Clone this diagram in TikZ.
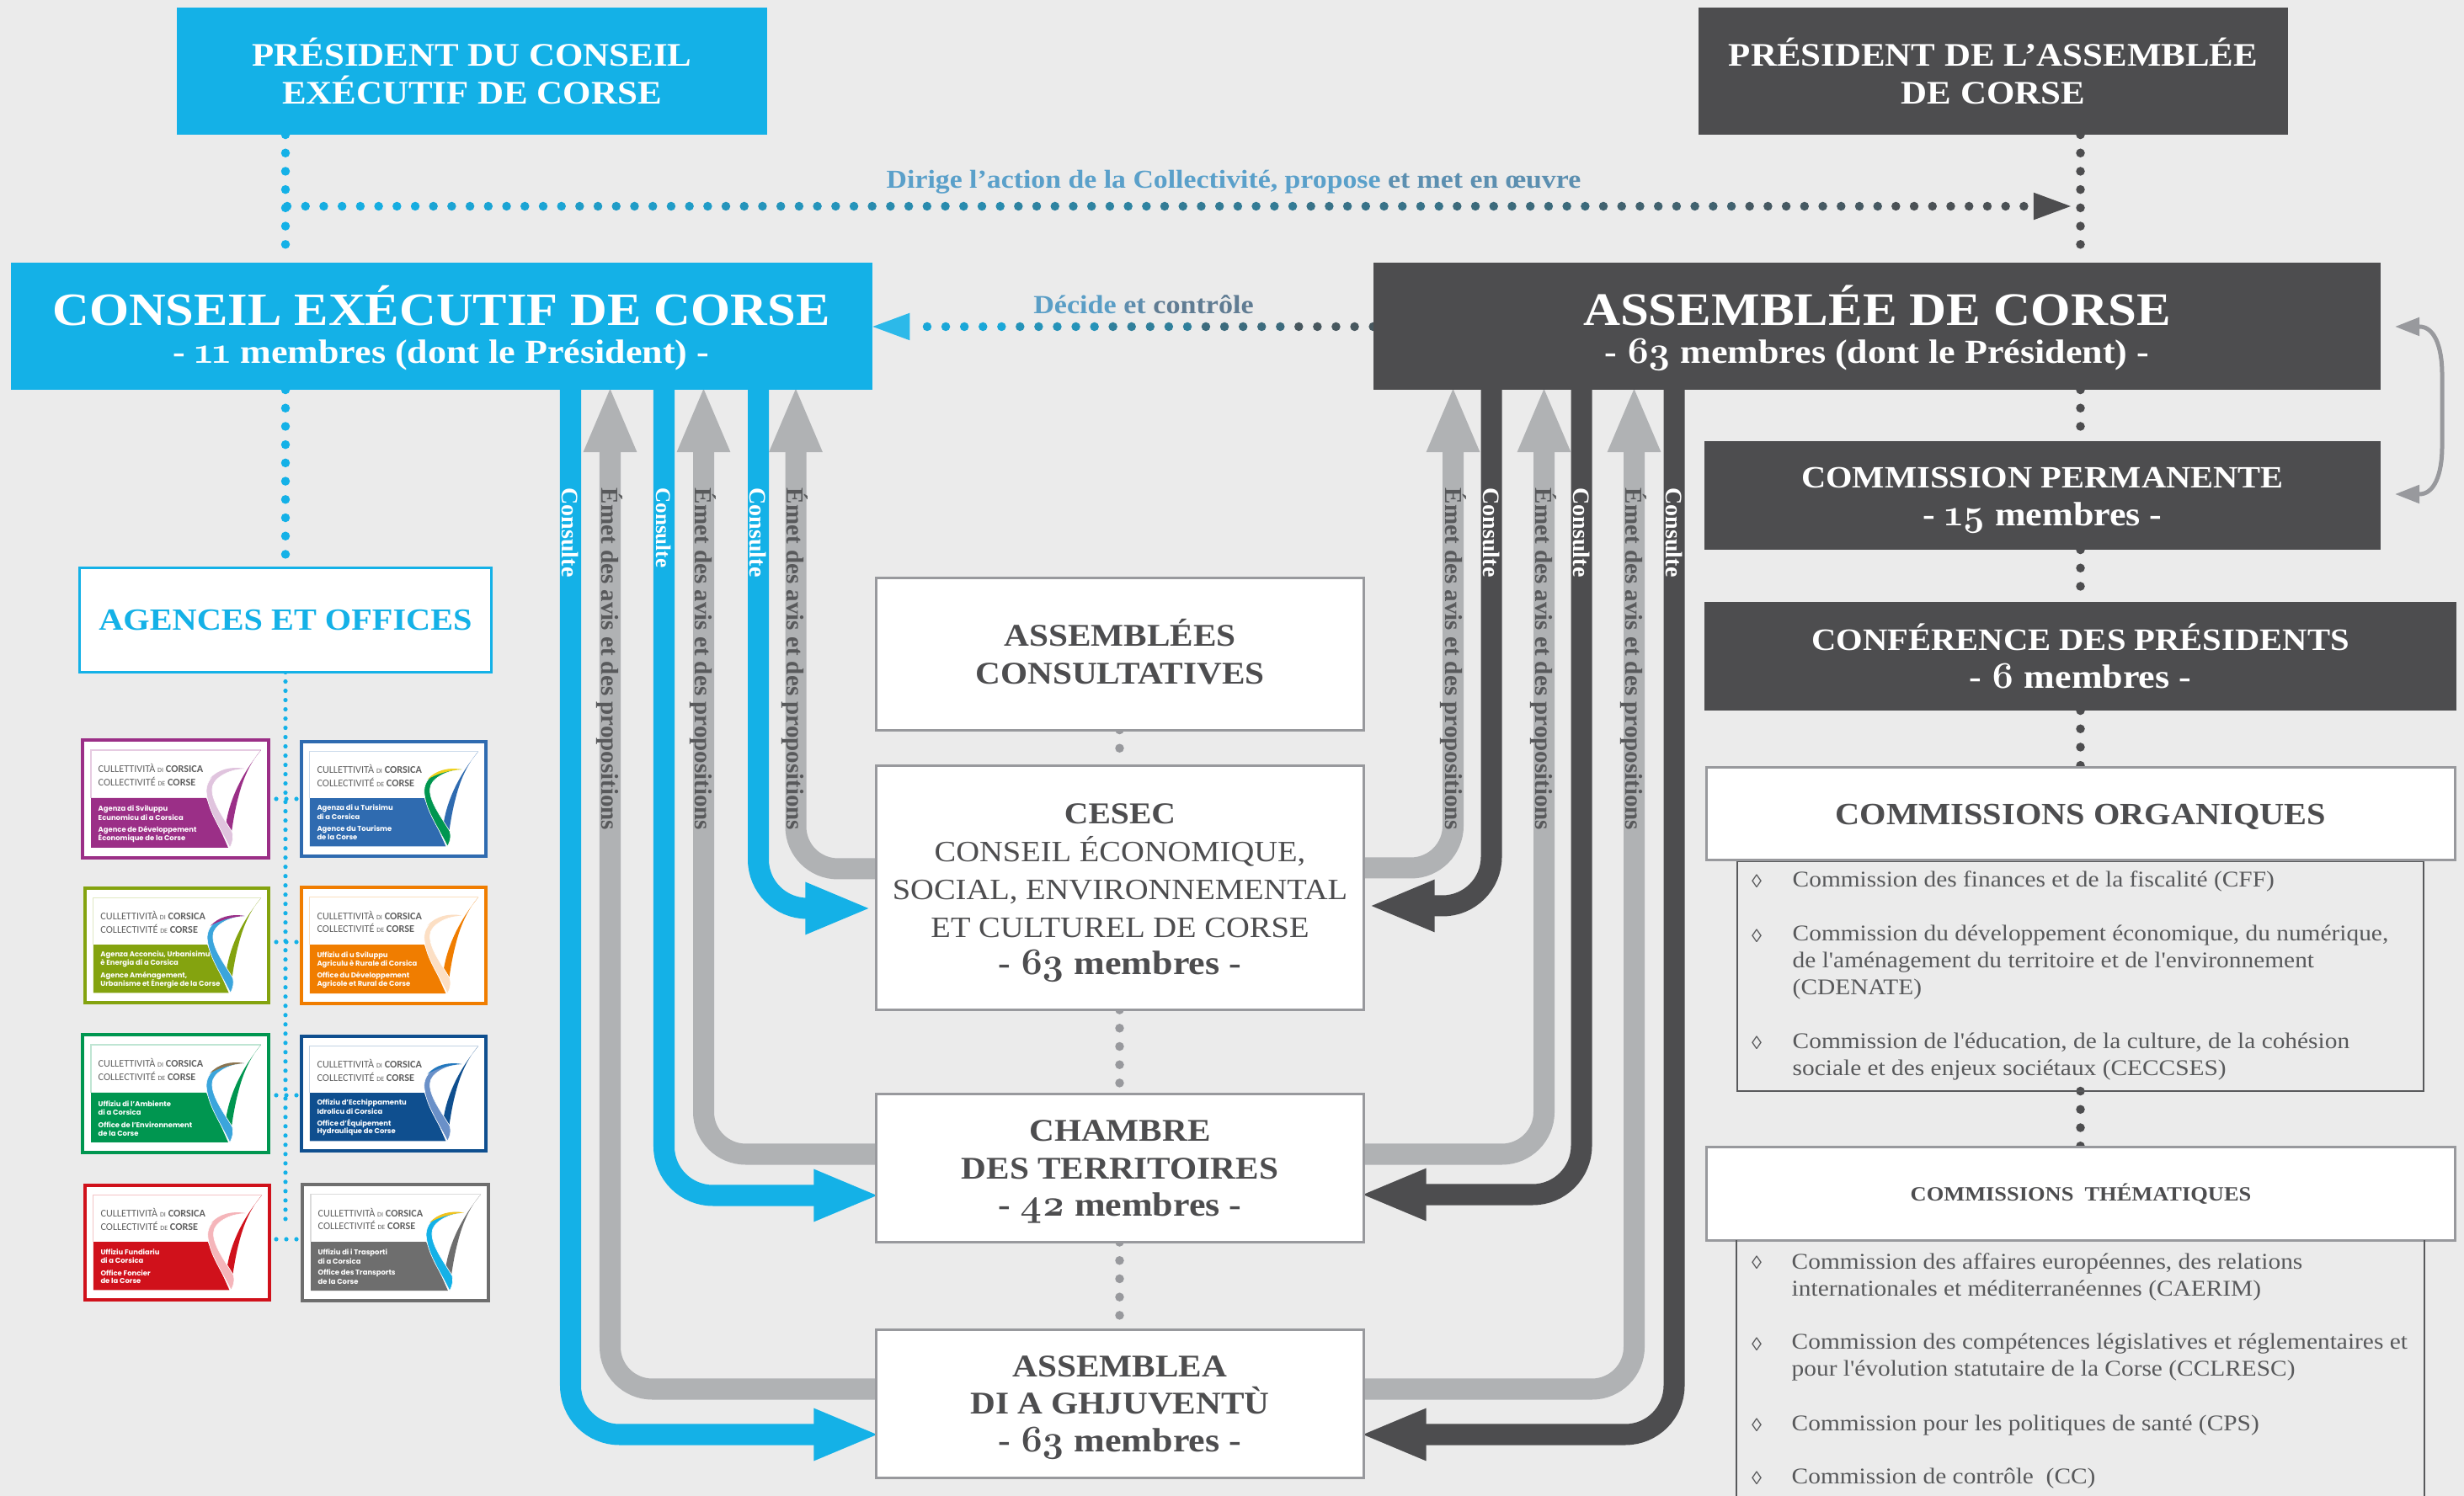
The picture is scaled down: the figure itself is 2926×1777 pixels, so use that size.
\documentclass[tikz,border=0pt]{standalone}
\usepackage{fontspec}
\setmainfont{Liberation Serif}[FakeStretch=1.1]
\newfontfamily\tms{Liberation Serif}
\newfontfamily\plainf{Liberation Serif}[FakeStretch=1.1]
\newfontfamily\oldn[Numbers=OldStyle,Scale=1.12]{Latin Modern Roman}
\newfontfamily\logoh{Carlito}
\newfontfamily\logot{Poppins}
\usetikzlibrary{arrows.meta,calc}
\pgfdeclarelayer{bgl}
\pgfdeclarelayer{links}
\pgfsetlayers{bgl,links,main}
\definecolor{cB}{HTML}{14B1E7}
\definecolor{cD}{HTML}{4D4D4F}
\definecolor{cG}{HTML}{B0B2B4}
\definecolor{cF}{HTML}{98999D}
\definecolor{cBg}{HTML}{EBEBEB}
\definecolor{cT}{HTML}{58595B}
\definecolor{lPur}{HTML}{9B2F87}
\definecolor{lPurP}{HTML}{E0C4DE}
\definecolor{lBlu}{HTML}{2F6BB0}
\definecolor{lGre}{HTML}{009650}
\definecolor{lYel}{HTML}{F2D21B}
\definecolor{lOli}{HTML}{84A30F}
\definecolor{lSky}{HTML}{3BA5DC}
\definecolor{lOra}{HTML}{F07D00}
\definecolor{lOraP}{HTML}{FCDFC4}
\definecolor{lBro}{HTML}{8C7550}
\definecolor{lNav}{HTML}{0F4F8F}
\definecolor{lNavP}{HTML}{6A90C8}
\definecolor{lNavT}{HTML}{2378BE}
\definecolor{lRed}{HTML}{D0111B}
\definecolor{lRedP}{HTML}{F5B5BA}
\definecolor{lGry}{HTML}{6E6E6E}
\definecolor{lAmb}{HTML}{F2C21B}
\newcommand\pxf[2]{\fontsize{\fpeval{#1*0.284528}pt}{\fpeval{#2*0.284528}pt}\selectfont}
\newcommand\os[1]{{\oldn\bfseries #1}}
\newcommand\mbr[1]{{\pxf{40}{45}- \os{#1} membres -}}
\newcommand\reg[1]{{\mdseries\pxf{35}{44.7}#1}}
\tikzset{
  solidbox/.style={inner sep=0pt,outer sep=0pt},
  solidtext/.style={inner sep=0pt,text=white,align=center,font=\bfseries\pxf{39}{45}},
  whitebox/.style={draw=cF,line width=.03cm,fill=white,inner sep=0pt,outer sep=0pt},
  whitetext/.style={inner sep=0pt,text=cD,align=center,font=\bfseries\pxf{37.5}{44.7}},
  blueArrow/.style={draw=cB,line width=.25cm,rounded corners=.58cm,shorten >=-.05cm,-{Triangle[length=.79cm,width=.56cm]}},
  darkArrow/.style={draw=cD,line width=.25cm,rounded corners=.58cm,shorten >=-.05cm,-{Triangle[length=.79cm,width=.56cm]}},
  grayArrow/.style={draw=cG,line width=.25cm,rounded corners=.5cm,shorten >=-.05cm,-{Triangle[length=.79cm,width=.57cm]}},
  consLabel/.style={rotate=-90,anchor=base west,inner sep=0pt,text=white,font=\tms\bfseries\pxf{28}{28}},
  avisLabel/.style={rotate=-90,anchor=base west,inner sep=0pt,text=cT,font=\tms\bfseries\pxf{29}{29}},
  dotline/.style={line cap=round,dash pattern=on 0pt off .217cm,line width=.105cm},
  thindots/.style={draw=cB,line cap=round,dash pattern=on 0pt off .11cm,line width=.052cm},
  listText/.style={anchor=west,inner sep=0pt,text=cT,align=left,font=\plainf\pxf{26.7}{32}},
  bulletText/.style={anchor=center,inner sep=0pt,text=cT,font=\pxf{22}{22}},
  subframe/.style={draw=cT,line width=.02cm},
}
\newcommand\logotext[5]{%
  \node[anchor=west,inner sep=0pt,text=white,font=\logot\bfseries\pxf{8.4}{9}] (#1a) at (20,84) {#2};
  \node[anchor=west,inner sep=0pt,text=white,font=\logot\bfseries\pxf{8.4}{9}] (#1b) at (20,94) {#3};
  \node[anchor=west,inner sep=0pt,text=white,font=\logot\bfseries\pxf{8.4}{9}] (#1c) at (20,109) {#4};
  \node[anchor=west,inner sep=0pt,text=white,font=\logot\bfseries\pxf{8.4}{9}] (#1d) at (20,119) {#5};
}
% name, x, y, w, h, main, left, top, {l1}{l2}{l3}{l4}
\newcommand\logo[9]{%
  \node[draw=#6,line width=.036cm,fill=white,inner sep=0pt,outer sep=0pt,
        minimum width=\fpeval{(#4-3.6)*0.01}cm,minimum height=\fpeval{(#5-3.6)*0.01}cm]
        (#1) at (\fpeval{#2+#4/2},\fpeval{#3+#5/2}) {};
  \begin{scope}[shift={(#2,#3)},xscale=\fpeval{#4/225},yscale=\fpeval{#5/144}]
    \draw[#6!25,line width=.012cm] (214,14) -- (12,14) -- (12,71);
    \fill[#6] (12,71) -- (149,71) -- (175,130) -- (12,130) -- cycle;
    \fill[#6] (214,14) .. controls (200,30) and (192,50) .. (187,70)
       .. controls (183,85) and (181,98) .. (179,111) -- (172.6,99.7)
       .. controls (176,80) and (185,50) .. (214,14) -- cycle;
    \fill[#7,draw=white,line width=.006cm] (194,36) .. controls (175,33) and (150,40) .. (149,62)
       .. controls (150,85) and (165,105) .. (177,130) .. controls (181,122) and (181,118) .. (180,112)
       .. controls (170,95) and (155,75) .. (156,60) .. controls (156,48) and (175,37) .. (194,36) -- cycle;
    \fill[#8] (194,36) .. controls (178,33) and (163,37) .. (153,48)
       .. controls (163,42) and (178,37) .. (194,36) -- cycle;
    \node[anchor=west,inner sep=0pt,text=black!62,font=\logoh\pxf{12.2}{13}] (#1h1) at (20,35.5) {CULLETTIVITÀ {\pxf{8}{8}DI} \textbf{CORSICA}};
    \node[anchor=west,inner sep=0pt,text=black!62,font=\logoh\pxf{12.2}{13}] (#1h2) at (20,51.5) {COLLECTIVITÉ {\pxf{8}{8}DE} \textbf{CORSE}};
    \logotext{#1}#9
  \end{scope}%
}
\begin{document}
\begin{tikzpicture}[x=.01cm,y=-.01cm]
\useasboundingbox (0,0) rectangle (2926,1777);
\begin{pgfonlayer}{bgl}
\fill[cBg] (0,0) rectangle (2926,1777);
\end{pgfonlayer}
\coordinate (vx) at (339,0);
\coordinate (dx) at (2470.5,0);
\coordinate (gx) at (1329.5,0);
% --- solid boxes
\node[solidbox,fill=cB,minimum width=7.01cm,minimum height=1.51cm] (pce) at (560.5,84.5) {};
\node[solidtext] (pcet) at (560.5,84.5) {PRÉSIDENT DU CONSEIL\\EXÉCUTIF DE CORSE};
\node[solidbox,fill=cD,minimum width=7.00cm,minimum height=1.51cm] (pas) at (2367,84.5) {};
\node[solidtext] (past) at (2367,84.5) {PRÉSIDENT DE L’ASSEMBLÉE\\DE CORSE};
\node[solidbox,fill=cB,minimum width=10.23cm,minimum height=1.51cm] (cex) at (524.5,387.5) {};
\node[solidtext] (cext) at (524,390) {{\pxf{55}{55}CONSEIL EXÉCUTIF DE CORSE}\\{\pxf{40}{45}- \os{11} membres (dont le Président) -}};
\node[solidbox,fill=cD,minimum width=11.96cm,minimum height=1.51cm] (asm) at (2229,387.5) {};
\node[solidtext] (asmt) at (2229,390) {{\pxf{55.4}{55}ASSEMBLÉE DE CORSE}\\{\pxf{40}{45}- \os{6\kern-.08em 3} membres (dont le Président) -}};
\node[solidbox,fill=cD,minimum width=8.03cm,minimum height=1.29cm] (cperm) at (2425.5,588.5) {};
\node[solidtext,font=\bfseries\pxf{36.8}{45}] (cpermt) at (2425.5,594) {COMMISSION PERMANENTE\\\mbr{15}};
\node[solidbox,fill=cD,minimum width=8.93cm,minimum height=1.29cm] (conf) at (2470.5,779.5) {};
\node[solidtext,font=\bfseries\pxf{36.9}{45}] (conft) at (2470.5,779) {CONFÉRENCE DES PRÉSIDENTS\\\mbr{6}};
% --- white boxes
\node[whitebox,minimum width=5.79cm,minimum height=1.80cm] (ac) at (1330,777) {};
\node[whitetext] (act) at (1330,774) {ASSEMBLÉES\\CONSULTATIVES};
\node[whitebox,minimum width=5.79cm,minimum height=2.90cm] (cesec) at (1330,1054.5) {};
\node[whitetext] (cesect) at (1330,1061) {{\pxf{36}{44.7}CESEC}\\\reg{CONSEIL ÉCONOMIQUE,}\\\reg{SOCIAL, ENVIRONNEMENTAL}\\\reg{ET CULTUREL DE CORSE}\\{\pxf{40}{45}- \os{6\kern-.08em 3} membres -}};
\node[whitebox,minimum width=5.79cm,minimum height=1.76cm] (cham) at (1330,1387.5) {};
\node[whitetext] (chamt) at (1330,1392) {CHAMBRE\\DES TERRITOIRES\\\mbr{42}};
\node[whitebox,minimum width=5.79cm,minimum height=1.76cm] (jeun) at (1330,1667.5) {};
\node[whitetext] (jeunt) at (1330,1672) {ASSEMBLEA\\DI A GHJUVENTÙ\\{\pxf{40}{45}- \os{6\kern-.08em 3} membres -}};
% --- commissions
\node[draw=cT,line width=.02cm,inner sep=0pt,outer sep=0pt,minimum width=8.15cm,minimum height=2.73cm] (orgsub) at (2470.5,1159.5) {};
\coordinate (thl) at (2062,1777);
\coordinate (thr) at (2879,1777);
\node[whitebox,minimum width=8.89cm,minimum height=1.10cm] (org) at (2471,966.5) {};
\node[whitetext,font=\bfseries\pxf{36.7}{37}] (orgt) at (2471,970) {COMMISSIONS ORGANIQUES};
\node[whitebox,minimum width=8.89cm,minimum height=1.10cm] (them) at (2471,1418) {};
\node[whitetext,font=\bfseries\pxf{24}{24}] (themt) at (2471,1418.5) {COMMISSIONS\ \ THÉMATIQUES};
\draw[subframe] (thl) -- (thl |- them.south);
\draw[subframe] (thr) -- (thr |- them.south);
\foreach \nm/\yy in {o1/1047,o2/1112,o3/1239,t1/1500,t2/1597,t3/1693,t4/1756}{
  \node[bulletText] (b\nm) at (2086,\yy) {◊};
}
\node[listText] (i1) at (2128,1047) {Commission des finances et de la fiscalité (CFF)};
\node[listText] (i2) at (2128,1143.5) {Commission du développement économique, du numérique,\\de l'aménagement du territoire et de l'environnement\\(CDENATE)};
\node[listText] (i3) at (2128,1255.5) {Commission de l'éducation, de la culture, de la cohésion\\sociale et des enjeux sociétaux (CECCSES)};
\node[listText] (j1) at (2127,1516.5) {Commission des affaires européennes, des relations\\internationales et méditerranéennes (CAERIM)};
\node[listText] (j2) at (2127,1612.5) {Commission des compétences législatives et réglementaires et\\pour l'évolution statutaire de la Corse (CCLRESC)};
\node[listText] (j3) at (2127,1693) {Commission pour les politiques de santé (CPS)};
\node[listText] (j4) at (2127,1756) {Commission de contrôle\ \ (CC)};
% --- agences
\node[draw=cB,line width=.03cm,fill=white,inner sep=0pt,outer sep=0pt,minimum width=4.89cm,minimum height=1.24cm,text=cB,font=\bfseries\pxf{36.6}{37}] (ag) at (339,736.5) {AGENCES ET OFFICES};
% --- links (below the boxes)
\begin{pgfonlayer}{links}
\draw[dotline,draw=cB] (vx |- pce.south) -- (vx |- cex.north);
\draw[thindots] (vx |- ag.south) -- (339,1457);
\draw[dotline,draw=cB] (vx |- cex.south) -- (vx |- ag.north);
\draw[dotline,draw=cD] (dx |- pas.south) -- (dx |- asm.north);
\draw[dotline,draw=cD] (dx |- asm.south) -- (dx |- cperm.north);
\draw[dotline,draw=cD] (dx |- cperm.south) -- (dx |- conf.north);
\draw[dotline,draw=cD] (dx |- conf.south) -- (dx |- org.north);
\draw[dotline,draw=cD] (dx |- orgsub.south) -- (dx |- them.north);
\draw[dotline,draw=cF] (gx |- ac.south) -- (gx |- cesec.north);
\draw[dotline,draw=cF] (gx |- cesec.south) -- (gx |- cham.north);
\draw[dotline,draw=cF] (gx |- cham.south) -- (gx |- jeun.north);
% gradient dotted links
\coordinate (topL) at (341,245);
\coordinate (topR) at (2425,245);
\foreach \i in {0,...,11}{
  \pgfmathsetmacro\m{(\i+.5)/12*100}
  \draw[dotline,dash pattern=on 0pt off .2171cm,draw={cD!\m!cB}] ($(topL)!{\i/12}!(topR)$) -- ($(topL)!{(\i+1)/12}!(topR)$);
}
\coordinate (topH) at (2459,245);
\coordinate (topB) at (2415,245);
\draw[draw=cD,line width=.02cm,-{Triangle[length=.44cm,width=.32cm]}] (topB) -- (topH);
\coordinate (decB) at (1079,388);
\coordinate (decA) at (asm.west |- decB);
\foreach \i in {0,...,4}{
  \pgfmathsetmacro\m{(\i+.5)/5*100}
  \draw[dotline,dash pattern=on 0pt off .2208cm,draw={cB!\m!cD}] ($(decA)!{\i/5}!(decB)$) -- ($(decA)!{(\i+1)/5}!(decB)$);
}
\draw[draw=cB!90!white,line width=.02cm,-{Triangle[length=.44cm,width=.32cm]}] (decB) -- (cex.east |- decB);
% thick arrows
\draw[grayArrow] (cesec.west |- 0,1032) -| (945,0 |- cex.south);
\draw[grayArrow] (cham.west |- 0,1371) -| (835.5,0 |- cex.south);
\draw[grayArrow] (jeun.west |- 0,1650) -| (724.5,0 |- cex.south);
\draw[blueArrow,shorten >=.05cm] (900.5,0 |- cex.south) |- (cesec.west |- 0,1079);
\draw[blueArrow] (788.5,0 |- cex.south) |- (cham.west |- 0,1420);
\draw[blueArrow] (677.5,0 |- cex.south) |- (jeun.west |- 0,1704);
\draw[grayArrow] (cesec.east |- 0,1031) -| (1725.5,0 |- asm.south);
\draw[grayArrow] (cham.east |- 0,1371) -| (1833.5,0 |- asm.south);
\draw[grayArrow] (jeun.east |- 0,1650) -| (1940.5,0 |- asm.south);
\draw[darkArrow,shorten >=.05cm] (1771,0 |- asm.south) |- (cesec.east |- 0,1076);
\draw[darkArrow] (1878,0 |- asm.south) |- (cham.east |- 0,1419);
\draw[darkArrow] (1988,0 |- asm.south) |- (jeun.east |- 0,1704);
\end{pgfonlayer}
\node[inner sep=0pt,font=\bfseries\pxf{30.7}{31}] (dirlab) at (1465,216) {\textcolor[HTML]{5AA0CA}{Dirige l’action de la Collectivité, propose} \textcolor[HTML]{5C8FB0}{et met en œuvre}};
\node[inner sep=0pt,font=\bfseries\pxf{31}{31}] (declab) at (1358,362) {\textcolor[HTML]{5A9EC6}{Décide} \textcolor[HTML]{5F8DAD}{et} \textcolor[HTML]{607C93}{contrôle}};
% --- arrow labels
\node[consLabel] (cl1) at (667.5,579) {Consulte};
\node[consLabel,font=\tms\bfseries\pxf{25}{25}] (cl2) at (779,579) {Consulte};
\node[consLabel] (cl3) at (890.5,579) {Consulte};
\node[avisLabel] (al1) at (714,579) {Émet des avis et des propositions};
\node[avisLabel] (al2) at (825,579) {Émet des avis et des propositions};
\node[avisLabel] (al3) at (934.5,579) {Émet des avis et des propositions};
\node[avisLabel] (al4) at (1716,579) {Émet des avis et des propositions};
\node[consLabel] (cl4) at (1761,579) {Consulte};
\node[avisLabel] (al5) at (1823,579) {Émet des avis et des propositions};
\node[consLabel] (cl5) at (1868,579) {Consulte};
\node[avisLabel] (al6) at (1930,579) {Émet des avis et des propositions};
\node[consLabel] (cl6) at (1978,579) {Consulte};
% --- curved double arrow
\coordinate (ca) at (2844,388);
\coordinate (cb) at (2844,587);
\draw[draw=cF,line width=.05cm,{Triangle[length=.29cm,width=.21cm]}-{Triangle[length=.29cm,width=.21cm]}]
  (ca) -- (2873,388) .. controls (2890,388) and (2900,410) .. (2900,445) -- (2900,530) .. controls (2900,565) and (2890,587) .. (2873,587) -- (cb);
% --- logos
\logo{la}{96}{877}{225}{144}{lPur}{lPurP}{lPurP}{{Agenza di Sviluppu}{Ecunomicu di a Corsica}{Agence de Développement}{Économique de la Corse}}
\logo{lb}{356}{879}{223}{140}{lBlu}{lGre}{lYel}{{Agenza di u Turisimu}{di a Corsica}{Agence du Tourisme}{de la Corse}}
\logo{lc}{99}{1053}{222}{140}{lOli}{lSky}{lPur}{{Agenza Acconciu, Urbanisimu}{è Energia di a Corsica}{Agence Aménagement,}{Urbanisme et Énergie de la Corse}}
\logo{ld}{356}{1052}{223}{142}{lOra}{lOraP}{lOraP}{{Uffiziu di u Sviluppu}{Agriculu è Rurale di Corsica}{Office du Développement}{Agricole et Rural de Corse}}
\logo{le}{96}{1227}{225}{144}{lGre}{lSky}{lBro}{{Uffiziu di l’Ambiente}{di a Corsica}{Office de l’Environnement}{de la Corse}}
\logo{lf}{356}{1229}{223}{140}{lNav}{lNavP}{lNavT}{{Offiziu d’Ecchippamentu}{Idrolicu di Corsica}{Office d’Équipement}{Hydraulique de Corse}}
\logo{lg}{99}{1406}{223}{140}{lRed}{lRedP}{lRedP}{{Uffiziu Fundiariu}{di a Corsica}{Office Foncier}{de la Corse}}
\logo{lh}{357}{1405}{225}{142}{lGry}{cB}{lAmb}{{Uffiziu di i Trasporti}{di a Corsica}{Office des Transports}{de la Corse}}
% --- logo links
\foreach \nn/\yy in {a/949,b/1119,c/1301,d/1472}{
  \coordinate (h\nn l) at (328,\yy);
  \coordinate (h\nn r) at (353,\yy);
  \draw[thindots,dash pattern=on 0pt off .12cm] (h\nn l) -- (h\nn r);
}
\end{tikzpicture}
\end{document}
